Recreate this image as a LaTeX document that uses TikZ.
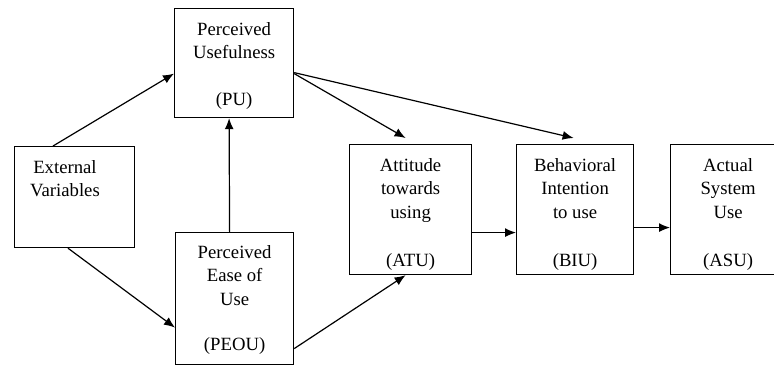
\documentclass[tikz,border=0pt]{standalone}
\usepackage{fontspec}
\setmainfont{Liberation Serif}
\usetikzlibrary{arrows.meta}
\begin{document}
\begin{tikzpicture}[x=1pt,y=-1pt,
  box/.style={draw,line width=1.2pt,inner sep=0pt,anchor=north west},
  lbl/.style={align=center,anchor=north,inner sep=0pt,font=\fontsize{18.7}{23.5}\selectfont},
  arr/.style={line width=1.2pt,-{Latex[length=11pt,width=9pt]}}]
\useasboundingbox (0,0) rectangle (774,367);
% boxes
\node[box,minimum width=120pt,minimum height=101pt] (ev) at (14,146) {};
\node[box,minimum width=119pt,minimum height=109pt] (pu) at (174,8) {};
\node[box,minimum width=118pt,minimum height=132pt] (peou) at (175,232) {};
\node[box,minimum width=122pt,minimum height=130pt] (atu) at (349,144) {};
\node[box,minimum width=117pt,minimum height=130pt] (biu) at (516,144) {};
\node[box,minimum width=115pt,minimum height=130pt] (asu) at (670,144) {};
% labels
\node[lbl,anchor=north west] (evt) at ([xshift=16pt,yshift=-14pt]ev.north west) {External\\Variables};
\node[lbl] (put) at ([yshift=-14pt]pu.north) {Perceived\\Usefulness\\[23.5pt](PU)};
\node[lbl] (peout) at ([yshift=-13pt]peou.north) {Perceived\\Ease of\\Use\\[21.5pt](PEOU)};
\node[lbl] (atut) at ([yshift=-14pt]atu.north) {Attitude\\towards\\using\\[25pt](ATU)};
\node[lbl] (biut) at ([yshift=-14pt]biu.north) {Behavioral\\Intention\\to use\\[25pt](BIU)};
\node[lbl] (asut) at ([yshift=-14pt]asu.north) {Actual\\System\\Use\\[25pt](ASU)};
% connectors
\draw[arr] ([xshift=39pt]ev.north west) -- ([yshift=-10.5pt]pu.west);
\draw[arr] ([xshift=54pt]ev.south west) -- ([yshift=-29pt]peou.west);
\draw[arr] ([xshift=-5pt]peou.north) -- ([xshift=-5pt]pu.south);
\draw[arr] ([yshift=-10.5pt]pu.east) -- ([xshift=-5pt,yshift=6pt]atu.north);
\draw[arr] ([yshift=-9.5pt]pu.east) -- ([xshift=-1.5pt,yshift=6pt]biu.north);
\draw[arr] ([yshift=-50pt]peou.east) -- ([xshift=-5pt]atu.south);
\draw[arr] ([yshift=-23pt]atu.east) -- ([yshift=-23pt]biu.west);
\draw[arr] ([yshift=-18pt]biu.east) -- ([yshift=-18pt]asu.west);
\end{tikzpicture}
\end{document}
